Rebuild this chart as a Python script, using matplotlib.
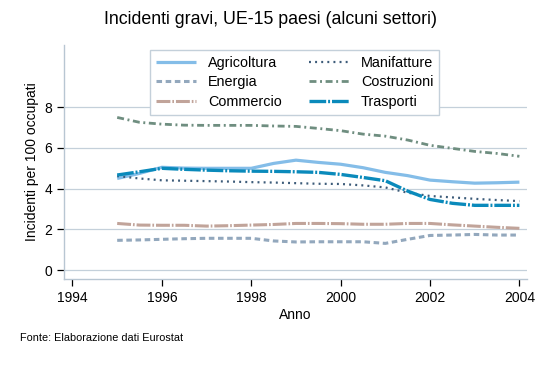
import numpy as np
import matplotlib
matplotlib.use('Agg')
import matplotlib.pyplot as plt

# years read at half-year steps from the reference
anni = [1995, 1995.5, 1996, 1996.5, 1997, 1997.5, 1998, 1998.5, 1999, 1999.5,
        2000, 2000.5, 2001, 2001.5, 2002, 2002.5, 2003, 2003.5, 2004]

agricoltura = [4.50, 4.75, 5.05, 5.01, 5.00, 5.00, 5.00, 5.24, 5.40, 5.29,
               5.20, 5.03, 4.80, 4.64, 4.42, 4.34, 4.27, 4.29, 4.32]
energia = [1.46, 1.48, 1.51, 1.54, 1.56, 1.56, 1.56, 1.43, 1.38, 1.39,
           1.39, 1.39, 1.31, 1.51, 1.70, 1.72, 1.75, 1.72, 1.72]
commercio = [2.29, 2.21, 2.20, 2.20, 2.16, 2.18, 2.21, 2.24, 2.29, 2.29,
             2.28, 2.25, 2.25, 2.29, 2.29, 2.22, 2.16, 2.10, 2.05]
manifatture = [4.62, 4.50, 4.41, 4.39, 4.37, 4.35, 4.32, 4.30, 4.27, 4.24,
               4.23, 4.16, 4.06, 3.80, 3.64, 3.57, 3.50, 3.44, 3.39]
costruzioni = [7.50, 7.26, 7.17, 7.12, 7.11, 7.11, 7.11, 7.08, 7.06, 6.96,
               6.85, 6.68, 6.58, 6.39, 6.13, 5.98, 5.83, 5.73, 5.59]
trasporti = [4.67, 4.83, 5.00, 4.95, 4.91, 4.88, 4.86, 4.85, 4.83, 4.80,
             4.70, 4.55, 4.39, 3.88, 3.47, 3.28, 3.18, 3.18, 3.18]

plt.rcParams['font.family'] = ['Liberation Sans', 'DejaVu Sans']
plt.rcParams['lines.scale_dashes'] = False

fig = plt.figure(figsize=(5.42, 3.66), dpi=100)
ax = fig.add_axes([64 / 542, 1 - 279 / 366, (527 - 64) / 542, (279 - 45) / 366])

grid_col = '#c4d0da'
ax.set_xlim(1993.81, 2004.17)
ax.set_ylim(-0.44, 11.06)
for v in [0, 2, 4, 6, 8]:
    ax.axhline(v, color=grid_col, linewidth=0.9, zorder=0)

ax.plot(anni, agricoltura, color='#84bde8', linewidth=2.3, solid_capstyle='butt', label='Agricoltura')
ax.plot(anni, energia, color='#93a8bd', linewidth=2.2, dashes=(4, 2.6), label='Energia')
ax.plot(anni, commercio, color='#c1a49a', linewidth=2.2, dashes=(10, 1.4, 1.2, 1.4), label='Commercio')
ax.plot(anni, manifatture, color='#3c5b79', linewidth=1.6, dashes=(1.4, 3.0), label='Manifatture')
ax.plot(anni, costruzioni, color='#6f8e80', linewidth=2.0, dashes=(5, 2.6, 1.4, 2.6), label='Costruzioni')
ax.plot(anni, trasporti, color='#0a8abb', linewidth=2.4, dashes=(12, 1.4, 1.4, 1.4), label='Trasporti')

for side in ['top', 'right']:
    ax.spines[side].set_visible(False)
for side in ['left', 'bottom']:
    ax.spines[side].set_color('#b8c6d2')
    ax.spines[side].set_linewidth(1.0)

ax.set_xticks([1994, 1996, 1998, 2000, 2002, 2004])
ax.set_yticks([0, 2, 4, 6, 8])
ax.tick_params(axis='both', colors='black', labelsize=10, length=5, width=0.9)
ax.set_xlabel('Anno', fontsize=10, labelpad=2)
ax.set_ylabel('Incidenti per 100 occupati', fontsize=10, labelpad=4)

leg = ax.legend(ncol=2, loc='upper left', bbox_to_anchor=(150 / 542, 1 - 50 / 366),
                bbox_transform=fig.transFigure, fontsize=10.4, frameon=True, fancybox=False,
                handlelength=2.8, handletextpad=0.8, columnspacing=1.9, labelspacing=0.38,
                borderpad=0.4, borderaxespad=0, framealpha=1)
leg.get_frame().set_edgecolor('#c4d0da')
leg.get_frame().set_linewidth(1.0)

fig.text(270 / 542, 1 - 20 / 366, 'Incidenti gravi, UE-15 paesi (alcuni settori)',
         ha='center', va='center', fontsize=12.8)
fig.text(20 / 542, 1 - 338 / 366, 'Fonte: Elaborazione dati Eurostat',
         ha='left', va='center', fontsize=7.8)

fig.savefig('out.png', dpi=100)
